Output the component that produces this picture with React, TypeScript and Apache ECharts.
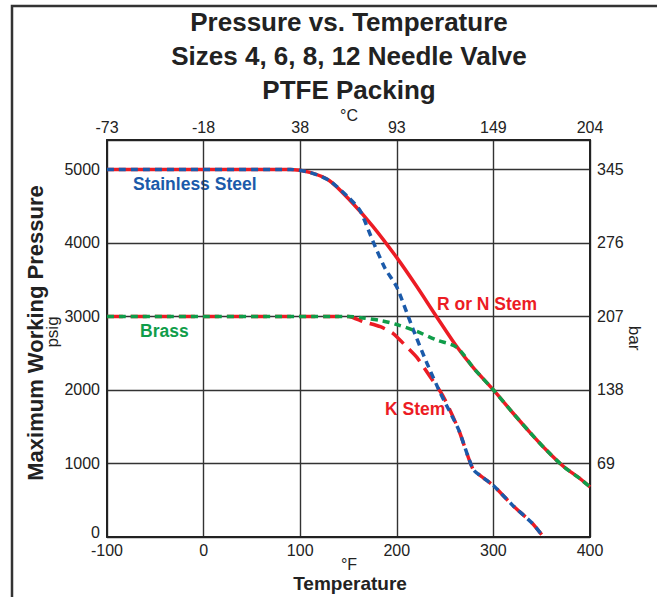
import React, { useEffect, useRef } from "react";
import * as echarts from "echarts";

// Temperature in °F, pressure in psig
const ssRNStem: [number, number][] = [
  [-100, 5000], [90, 5000], [110, 4960], [130, 4850], [150, 4600], [175, 4230],
  [200, 3800], [220, 3420], [241, 3000], [262, 2590], [280, 2290], [300, 2000],
  [320, 1690], [338, 1420], [355, 1180], [372, 966], [390, 790], [400, 680],
];
const ssKStem: [number, number][] = [
  [-100, 5000], [90, 5000], [110, 4960], [130, 4850], [150, 4620], [162, 4440],
  [176, 4000], [188, 3650], [200, 3400], [217, 2820], [231, 2370], [245, 1960],
  [264, 1460], [279, 920], [290, 800], [300, 700], [320, 430], [340, 190], [352, 0],
];
const brassRNStem: [number, number][] = [
  [-100, 3000], [150, 3000], [165, 2980], [185, 2940], [200, 2890], [220, 2800],
  [241, 2680], [262, 2580], [280, 2290], [300, 2000], [320, 1690], [338, 1420],
  [355, 1180], [372, 966], [390, 790], [400, 680],
];
const brassKStem: [number, number][] = [
  [-100, 3000], [150, 3000], [165, 2930], [183, 2860], [196, 2770], [210, 2590],
  [221, 2440], [234, 2190], [248, 1915], [264, 1460], [279, 920], [290, 800],
  [300, 700], [320, 430], [340, 190], [352, 0],
];

const celsiusLabels = ["-73", "-18", "38", "93", "149", "204"];
const barLabels = ["", "69", "138", "207", "276", "345"];

const RED = "#ec1c24";
const BLUE = "#1b5aaa";
const GREEN = "#109d4a";
const GRID = "#333333";
const FONT = "'Liberation Sans', Arial, sans-serif";
const BFONT = "'Liberation Sans', Arial, sans-serif";

export default function App() {
  const ref = useRef<HTMLDivElement>(null);
  useEffect(() => {
    if (!ref.current) return;
    const chart = echarts.init(ref.current, null, { renderer: "svg" });
    const tickLabel = { color: "#222", fontSize: 16, fontFamily: FONT };
    chart.setOption({
      animation: false,
      backgroundColor: "#fff",
      title: {
        text: "Pressure vs. Temperature\nSizes 4, 6, 8, 12 Needle Valve\nPTFE Packing",
        left: 349,
        top: 5,
        padding: 0,
        textAlign: "center",
        textStyle: {
          fontFamily: BFONT,
          fontWeight: "bold",
          fontSize: 26,
          lineHeight: 34,
          color: "#222",
        },
      },
      grid: { left: 107, right: 67, top: 140, bottom: 60 },
      xAxis: [
        {
          type: "value",
          min: -100,
          max: 400,
          interval: 100,
          position: "bottom",
          axisLine: { show: true, onZero: false, lineStyle: { color: "#222", width: 2 } },
          axisTick: { show: false },
          axisLabel: { ...tickLabel, margin: 5 },
          splitLine: { show: true, lineStyle: { color: GRID, width: 1.4 } },
        },
        {
          type: "value",
          min: -100,
          max: 400,
          interval: 100,
          position: "top",
          axisLine: { show: true, onZero: false, lineStyle: { color: "#222", width: 2 } },
          axisTick: { show: false },
          axisLabel: {
            ...tickLabel,
            margin: 5,
            formatter: (v: number) => celsiusLabels[Math.round((v + 100) / 100)] ?? "",
          },
          splitLine: { show: false },
        },
      ],
      yAxis: [
        {
          type: "value",
          min: 0,
          max: 5400,
          interval: 1000,
          position: "left",
          axisLine: { show: true, onZero: false, lineStyle: { color: "#222", width: 2 } },
          axisTick: { show: false },
          axisLabel: {
            ...tickLabel,
            margin: 7,
            formatter: (v: number) =>
              v === 0 ? "{z|0}" : v % 1000 === 0 ? String(v) : "",
            rich: {
              z: { ...tickLabel, padding: [0, 0, 9, 0] },
            },
          },
          splitLine: { show: true, lineStyle: { color: GRID, width: 1.4 } },
        },
        {
          type: "value",
          min: 0,
          max: 5400,
          interval: 1000,
          position: "right",
          axisLine: { show: true, onZero: false, lineStyle: { color: "#222", width: 2 } },
          axisTick: { show: false },
          axisLabel: {
            ...tickLabel,
            margin: 7,
            formatter: (v: number) => (v % 1000 === 0 ? barLabels[v / 1000] ?? "" : ""),
          },
          splitLine: { show: false },
        },
      ],
      series: [
        {
          name: "Stainless R or N Stem",
          type: "line",
          data: ssRNStem,
          showSymbol: false,
          smooth: 0.3,
          lineStyle: { color: RED, width: 3.5, type: "solid" },
          z: 2,
        },
        {
          name: "Brass K Stem",
          type: "line",
          data: brassKStem,
          showSymbol: false,
          smooth: 0.2,
          lineStyle: { color: RED, width: 3.5, type: [16, 8] },
          z: 3,
        },
        {
          name: "Stainless K Stem",
          type: "line",
          data: ssKStem,
          showSymbol: false,
          smooth: 0.2,
          lineStyle: { color: BLUE, width: 3.5, type: [7, 5] },
          z: 4,
        },
        {
          name: "Brass R or N Stem",
          type: "line",
          data: brassRNStem,
          showSymbol: false,
          smooth: 0.3,
          lineStyle: { color: GREEN, width: 3.5, type: [7, 5] },
          z: 5,
        },
      ],
      graphic: [
        {
          type: "rect",
          shape: { x: 12, y: 6, width: 700, height: 700 },
          style: { fill: "none", stroke: "#333", lineWidth: 2.5 },
          silent: true,
        },
        {
          type: "text",
          x: 349,
          y: 115,
          style: {
            text: "°C",
            fontFamily: FONT,
            fontSize: 16,
            fill: "#222",
            textAlign: "center",
            textVerticalAlign: "middle",
          },
        },
        {
          type: "text",
          x: 349,
          y: 564,
          style: {
            text: "°F",
            fontFamily: FONT,
            fontSize: 16,
            fill: "#222",
            textAlign: "center",
            textVerticalAlign: "middle",
          },
        },
        {
          type: "text",
          x: 35,
          y: 333,
          rotation: Math.PI / 2,
          style: {
            text: "Maximum Working Pressure",
            fontFamily: BFONT,
            fontWeight: "bold",
            fontSize: 22,
            fill: "#222",
            textAlign: "center",
            textVerticalAlign: "middle",
          },
        },
        {
          type: "text",
          x: 52,
          y: 332,
          rotation: Math.PI / 2,
          style: {
            text: "psig",
            fontFamily: FONT,
            fontSize: 17,
            fill: "#222",
            textAlign: "center",
            textVerticalAlign: "middle",
          },
        },
        {
          type: "text",
          x: 634,
          y: 338,
          rotation: -Math.PI / 2,
          style: {
            text: "bar",
            fontFamily: FONT,
            fontSize: 17,
            fill: "#222",
            textAlign: "center",
            textVerticalAlign: "middle",
          },
        },
        {
          type: "text",
          x: 350,
          y: 583,
          style: {
            text: "Temperature",
            fontFamily: BFONT,
            fontWeight: "bold",
            fontSize: 19,
            fill: "#222",
            textAlign: "center",
            textVerticalAlign: "middle",
          },
        },
        {
          type: "text",
          x: 133,
          y: 184,
          style: {
            text: "Stainless Steel",
            fontFamily: BFONT,
            fontWeight: "bold",
            fontSize: 17.5,
            fill: BLUE,
            textAlign: "left",
            textVerticalAlign: "middle",
          },
        },
        {
          type: "text",
          x: 140,
          y: 331,
          style: {
            text: "Brass",
            fontFamily: BFONT,
            fontWeight: "bold",
            fontSize: 17.5,
            fill: GREEN,
            textAlign: "left",
            textVerticalAlign: "middle",
          },
        },
        {
          type: "text",
          x: 437,
          y: 304,
          style: {
            text: "R or N Stem",
            fontFamily: BFONT,
            fontWeight: "bold",
            fontSize: 17.5,
            fill: RED,
            textAlign: "left",
            textVerticalAlign: "middle",
          },
        },
        {
          type: "text",
          x: 385,
          y: 409,
          style: {
            text: "K Stem",
            fontFamily: BFONT,
            fontWeight: "bold",
            fontSize: 17.5,
            fill: RED,
            textAlign: "left",
            textVerticalAlign: "middle",
          },
        },
      ],
    });
    return () => chart.dispose();
  }, []);
  return (
    <div
      ref={ref}
      style={{ position: "absolute", left: 0, top: 0, width: 657, height: 597 }}
    />
  );
}
